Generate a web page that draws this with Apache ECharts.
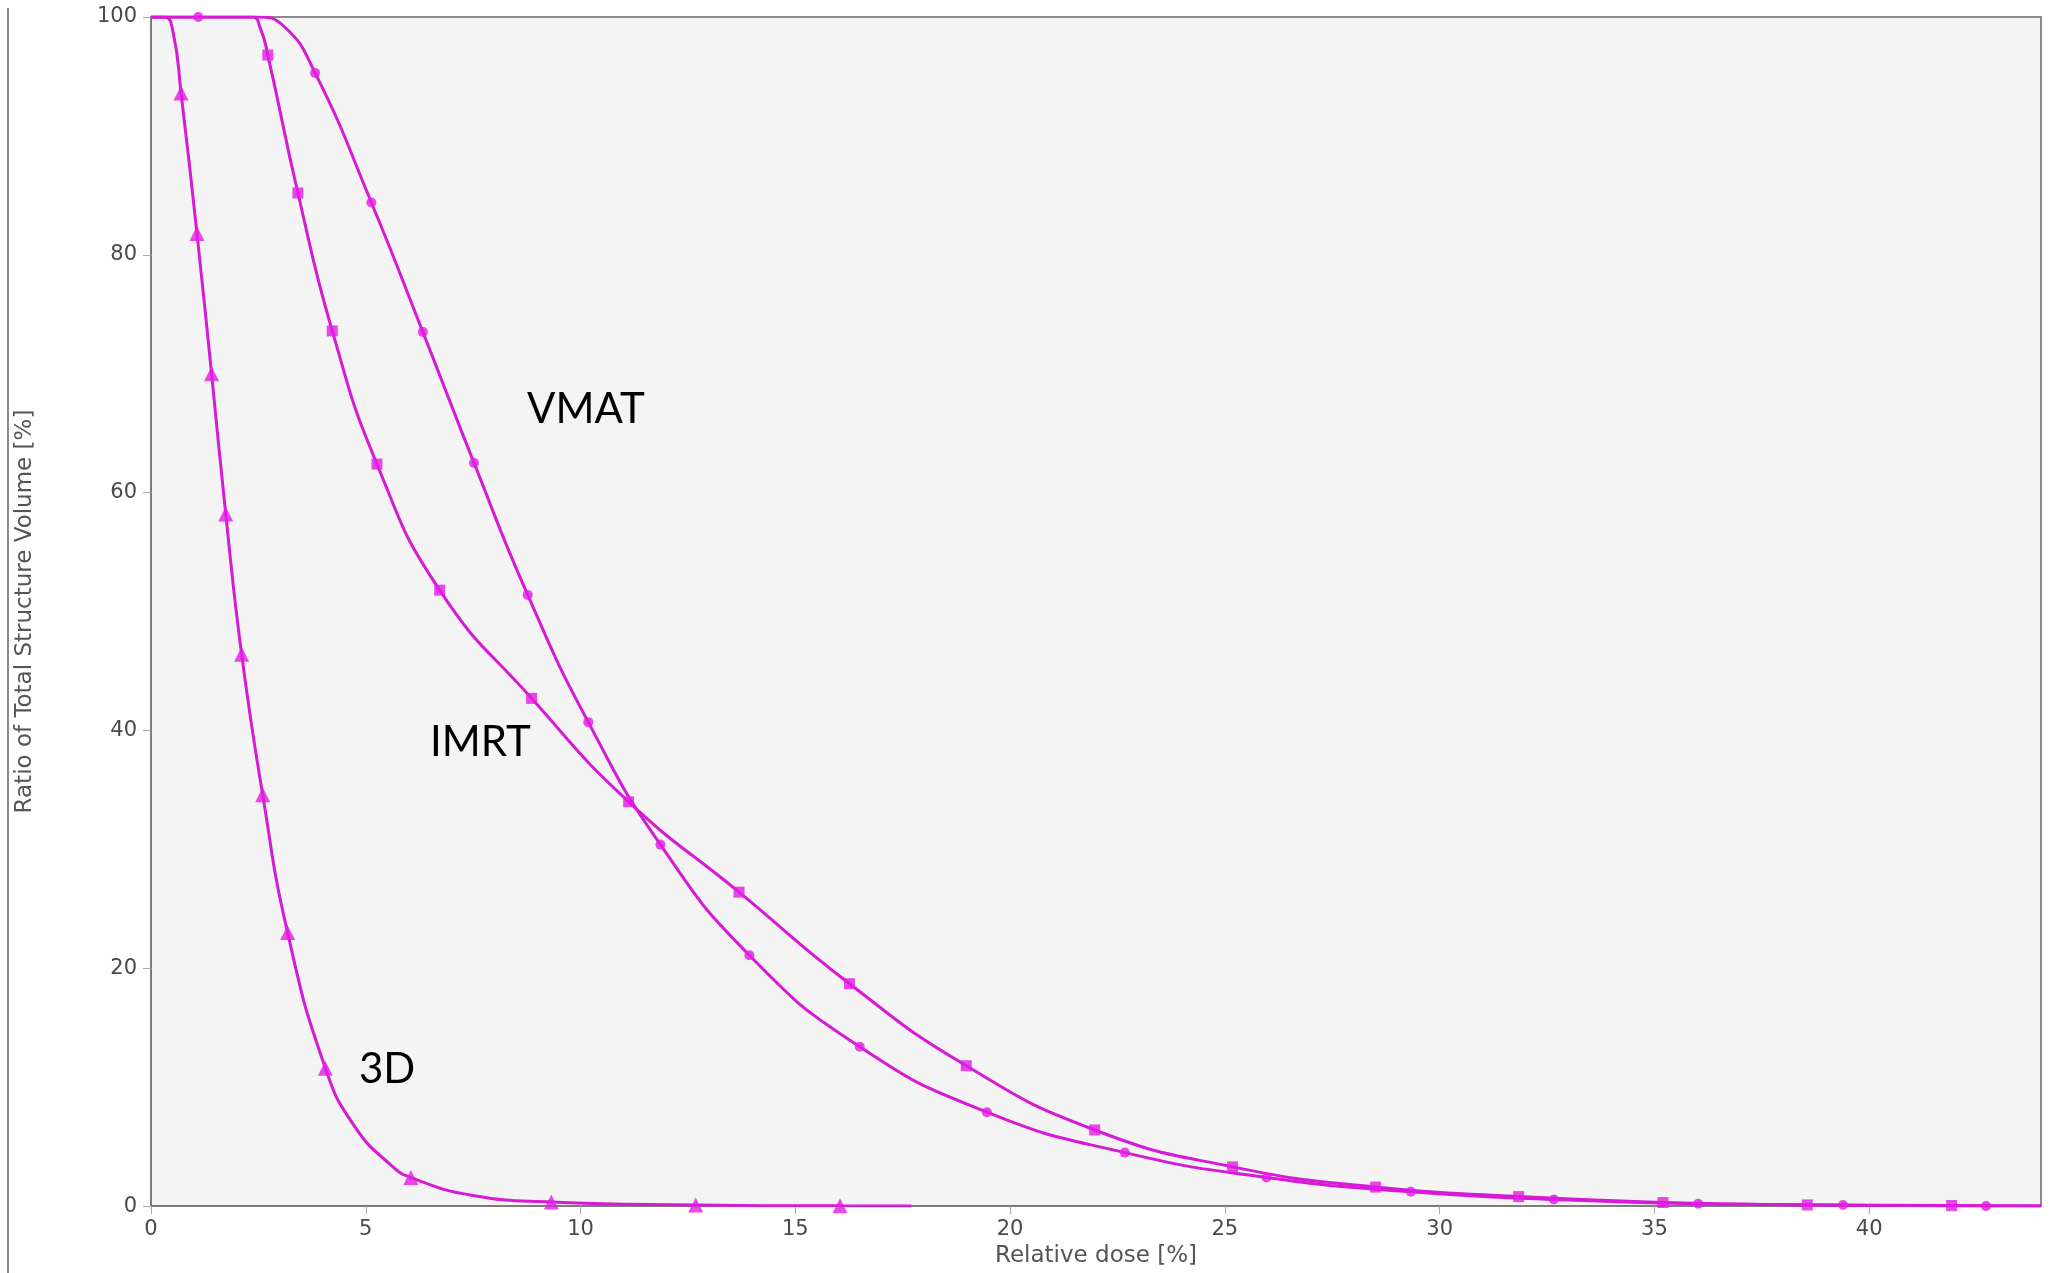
<!DOCTYPE html>
<html>
<head>
<meta charset="utf-8">
<script src="https://cdn.jsdelivr.net/npm/echarts@6/dist/echarts.min.js"></script>
<style>
html,body{margin:0;padding:0;background:#fff;}
#chart{width:2058px;height:1273px;}
</style>
</head>
<body>
<div id="chart"></div>
<script>
// ---- Data ----
const xTickValues = [0, 5, 10, 15, 20, 25, 30, 35, 40];
const yTickValues = [0, 20, 40, 60, 80, 100];

// Curve traces (dose %, volume %)
const dose3DLine = [0, 0.32, 0.52, 0.70, 1.07, 1.41, 1.74, 2.11, 2.60, 3.18, 4.06, 4.74, 5.60, 6.05, 7.49, 9.32, 12.68, 16.04, 17.7];
const vol3DLine  = [100, 100, 98.6, 93.6, 81.8, 70.0, 58.2, 46.4, 34.6, 23.0, 11.6, 6.7, 3.4, 2.4, 0.9, 0.35, 0.1, 0.02, 0.0];

const doseIMRTLine = [0, 2.35, 2.55, 2.72, 3.42, 4.22, 5.26, 6.72, 8.86, 11.12, 13.69, 16.26, 18.98, 21.97, 25.18, 28.51, 31.84, 35.20, 38.56, 41.92, 44];
const volIMRTLine  = [100, 100, 99.0, 96.8, 85.2, 73.6, 62.4, 51.8, 42.7, 34.0, 26.4, 18.7, 11.8, 6.4, 3.3, 1.6, 0.8, 0.3, 0.1, 0.05, 0.0];

const doseVMATLine = [0, 2.45, 3.10, 3.82, 5.13, 6.33, 7.52, 8.77, 10.18, 11.86, 13.93, 16.50, 19.46, 22.67, 25.97, 29.33, 32.66, 36.02, 39.39, 42.72, 44];
const volVMATLine  = [100, 100, 99.2, 95.3, 84.4, 73.5, 62.5, 51.4, 40.7, 30.4, 21.1, 13.4, 7.9, 4.5, 2.4, 1.2, 0.55, 0.2, 0.1, 0.0, 0.0];

// Marker points
const dose3DMarks = [0.70, 1.07, 1.41, 1.74, 2.11, 2.60, 3.18, 4.06, 6.05, 9.32, 12.68, 16.04];
const vol3DMarks  = [93.6, 81.8, 70.0, 58.2, 46.4, 34.6, 23.0, 11.6, 2.4, 0.35, 0.1, 0.02];

const doseIMRTMarks = [2.72, 3.42, 4.22, 5.26, 6.72, 8.86, 11.12, 13.69, 16.26, 18.98, 21.97, 25.18, 28.51, 31.84, 35.20, 38.56, 41.92];
const volIMRTMarks  = [96.8, 85.2, 73.6, 62.4, 51.8, 42.7, 34.0, 26.4, 18.7, 11.8, 6.4, 3.3, 1.6, 0.8, 0.3, 0.1, 0.05];

const doseVMATMarks = [1.10, 3.82, 5.13, 6.33, 7.52, 8.77, 10.18, 11.86, 13.93, 16.50, 19.46, 22.67, 25.97, 29.33, 32.66, 36.02, 39.39, 42.72];
const volVMATMarks  = [100, 95.3, 84.4, 73.5, 62.5, 51.4, 40.7, 30.4, 21.1, 13.4, 7.9, 4.5, 2.4, 1.2, 0.55, 0.2, 0.1, 0.0];

const curveLabels = ['VMAT', 'IMRT', '3D'];

// ---- helpers ----
const zip = (xs, ys) => xs.map((x, i) => [x, ys[i]]);
const LINE_COLOR = '#d61ad6';
const MARK_COLOR = '#e31be3';

function lineSeries(name, xs, ys) {
  return {
    name: name, type: 'line', data: zip(xs, ys),
    showSymbol: false, symbol: 'none', smooth: 0.5,
    lineStyle: { color: LINE_COLOR, width: 3 }, z: 3, silent: true
  };
}
function markSeries(name, xs, ys, symbol, size) {
  return {
    name: name + ' markers', type: 'scatter', data: zip(xs, ys),
    symbol: symbol, symbolSize: size,
    itemStyle: { color: MARK_COLOR }, z: 4, silent: true
  };
}

const chart = echarts.init(document.getElementById('chart'), null, { renderer: 'canvas' });
const tickFont = { fontFamily: 'DejaVu Sans', fontSize: 21, color: '#4a4a4a' };
const titleFont = { fontFamily: 'DejaVu Sans', fontSize: 23, color: '#555555' };

chart.setOption({
  animation: false,
  backgroundColor: '#ffffff',
  grid: {
    left: 151, right: 17, top: 17, bottom: 62,
    show: true, backgroundColor: '#f4f4f4', borderColor: '#8c8c8c', borderWidth: 2
  },
  xAxis: {
    type: 'value', min: 0, max: 44, interval: 5,
    name: 'Relative dose [%]', nameLocation: 'middle', nameGap: 30,
    nameTextStyle: titleFont,
    axisLine: { show: true, lineStyle: { color: '#7c7c7c', width: 2 } },
    axisTick: { show: true, inside: false, length: 8, customValues: xTickValues, lineStyle: { color: '#aaaaaa', width: 1 } },
    axisLabel: Object.assign({ margin: 13, customValues: xTickValues }, tickFont),
    splitLine: { show: false }
  },
  yAxis: {
    type: 'value', min: 0, max: 100, interval: 20,
    name: 'Ratio of Total Structure Volume [%]', nameLocation: 'middle', nameGap: 114,
    nameTextStyle: titleFont,
    axisLine: { show: true, lineStyle: { color: '#7c7c7c', width: 2 } },
    axisTick: { show: true, inside: false, length: 8, customValues: yTickValues, lineStyle: { color: '#aaaaaa', width: 1 } },
    axisLabel: Object.assign({ margin: 14, customValues: yTickValues }, tickFont),
    splitLine: { show: false }
  },
  graphic: [
    { type: 'line', shape: { x1: 8, y1: 8, x2: 8, y2: 1273 }, style: { stroke: '#8a8a8a', lineWidth: 2 }, silent: true },
    { type: 'text', left: 527, top: 388, style: { text: curveLabels[0], font: '42px Lato', fill: '#000' } },
    { type: 'text', left: 430, top: 721, style: { text: curveLabels[1], font: '42px Lato', fill: '#000' } },
    { type: 'text', left: 359, top: 1048, style: { text: curveLabels[2], font: '42px Lato', fill: '#000' } }
  ],
  series: [
    lineSeries('3D', dose3DLine, vol3DLine),
    lineSeries('IMRT', doseIMRTLine, volIMRTLine),
    lineSeries('VMAT', doseVMATLine, volVMATLine),
    markSeries('3D', dose3DMarks, vol3DMarks, 'triangle', 15),
    markSeries('IMRT', doseIMRTMarks, volIMRTMarks, 'rect', 11),
    markSeries('VMAT', doseVMATMarks, volVMATMarks, 'circle', 10)
  ]
});
</script>
</body>
</html>
